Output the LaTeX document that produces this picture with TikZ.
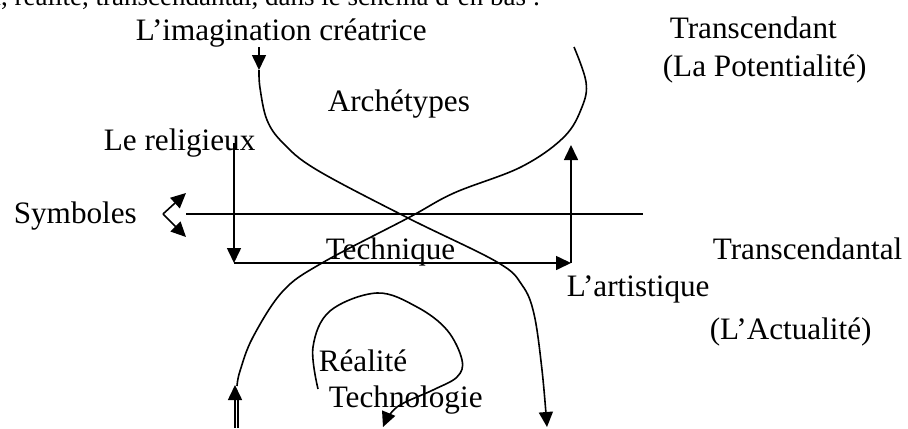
\documentclass[tikz,border=0pt]{standalone}
\usepackage{fontspec}
\setmainfont{Liberation Serif}
\usetikzlibrary{arrows.meta}

\tikzset{
  lbl/.style={anchor=base west, inner sep=0pt, font=\fontsize{15.6}{18}\selectfont},
  tip/.style={-{Triangle[length=7.5pt,width=7pt]}}
}

\begin{document}
\begin{tikzpicture}[x=0.5pt, y=-0.5pt, line width=0.8pt]
    \useasboundingbox (0,0) rectangle (908,428);

    % texts
    \node[lbl, anchor=base east, font=\fontsize{13.5}{16}\selectfont] (intro) at (541,5) {l, réalité, transcendantal, dans le schéma d’en bas :};
    \node[lbl] (imag) at (135,40) {L’imagination créatrice};
    \node[lbl] (arch) at (327,111) {Archétypes};
    \node[lbl] (relig) at (103,150) {Le religieux};
    \node[lbl] (symb) at (13,223) {Symboles};
    \node[lbl] (tech) at (325,259) {Technique};
    \node[lbl] (tdant) at (669,38) {Transcendant};
    \node[lbl] (poten) at (662,76) {(La Potentialité)};
    \node[lbl] (tdtal) at (712,259) {Transcendantal};
    \node[lbl] (artis) at (566,296) {L’artistique};
    \node[lbl] (actu) at (709,339) {(L’Actualité)};
    \node[lbl] (real) at (318,371) {Réalité};
    \node[lbl] (techno) at (328,407) {Technologie};

    % the frame of arrows
    \coordinate (rtop) at (234,143);
    \coordinate (rbl) at (234,263);
    \coordinate (rbr) at (571,263);
    \coordinate (rtr) at (571,145);
    \draw[tip] (rtop) -- (rbl);
    \draw[tip] (rbl) -- (rbr);
    \draw[tip] (rbr) -- (rtr);

    \coordinate (axl) at (186,214);
    \coordinate (axr) at (643,214);
    \draw (axl) -- (axr);

    \coordinate (sv) at (163,214);
    \draw[tip] (sv) -- (186,193);
    \draw[tip] (sv) -- (186,237);

    % the two crossing curves
    \coordinate (atop) at (259,47);
    \coordinate (ahead) at (259,70);
    \draw[tip] (atop) -- (ahead);
    \draw[tip] plot[smooth, tension=0.6] coordinates {(ahead) (260,88) (267,120) (283,143) (317,170) (408,218) (497,262) (522,285) (534,314) (542,370) (547,427)};

    \draw plot[smooth, tension=0.6] coordinates {(574,47) (586,82) (582,107) (564,137) (521,167) (454,193) (408,218) (322,263) (283,291) (253,337) (240,371) (237,386)};
    \coordinate (bbot) at (235,428);
    \coordinate (bhead) at (235,385);
    \draw[tip] (bbot) -- (bhead);
    \draw (238,428) -- (238,398);

    % the loop
    \draw[tip] plot[smooth, tension=0.6] coordinates {(318,389) (313,347) (330,311) (377,293) (417,307) (447,330) (462,360) (457,377) (433,390) (397,407) (383,427)};
\end{tikzpicture}
\end{document}
